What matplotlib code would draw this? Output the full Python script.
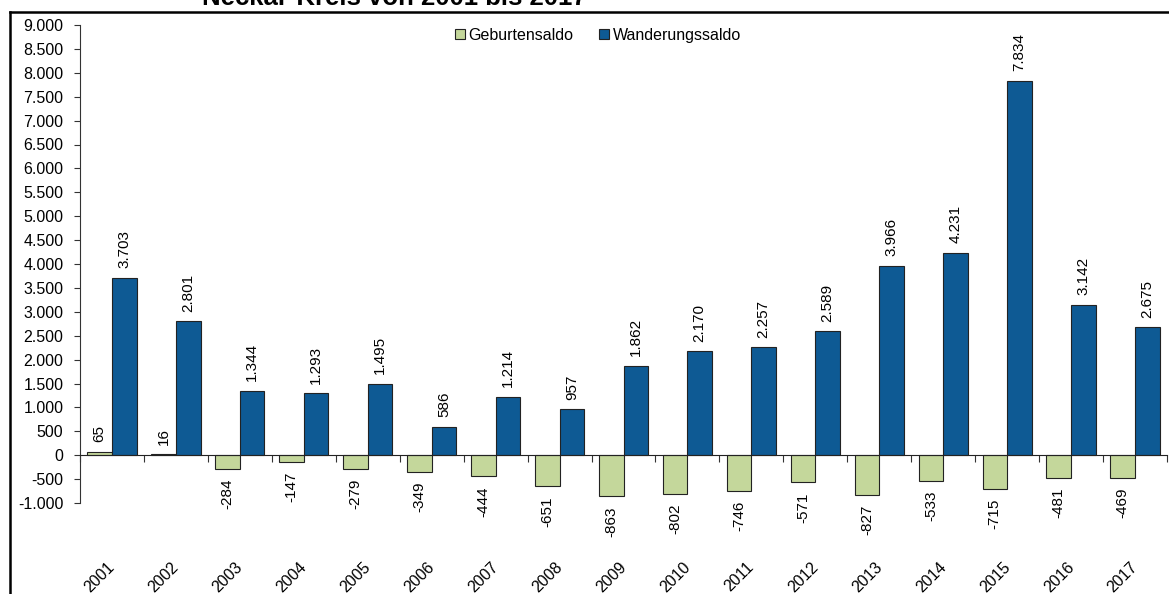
import numpy as np
import matplotlib.pyplot as plt
from matplotlib.lines import Line2D
from matplotlib.transforms import blended_transform_factory, offset_copy

plt.rcParams['font.family'] = ['Liberation Sans', 'DejaVu Sans']

# Daten
jahre = ["2001", "2002", "2003", "2004", "2005", "2006", "2007", "2008", "2009",
         "2010", "2011", "2012", "2013", "2014", "2015", "2016", "2017"]
geburtensaldo = [65, 16, -284, -147, -279, -349, -444, -651, -863,
                 -802, -746, -571, -827, -533, -715, -481, -469]
wanderungssaldo = [3703, 2801, 1344, 1293, 1495, 586, 1214, 957, 1862,
                   2170, 2257, 2589, 3966, 4231, 7834, 3142, 2675]

gruen = "#c4d79b"
blau = "#0e5a94"


def fmt(v):
    return f"{v:,}".replace(",", ".")


fig = plt.figure(figsize=(11.69, 5.94), dpi=100)
W, H = 1169, 594
ax = fig.add_axes([80 / W, (H - 503) / H, (1167 - 80) / W, (503 - 25) / H])

x = np.arange(len(jahre))
bw = 0.385
ax.bar(x - bw / 2, geburtensaldo, bw, color=gruen, edgecolor="#222222", linewidth=0.8,
       label="Geburtensaldo", zorder=2)
ax.bar(x + bw / 2, wanderungssaldo, bw, color=blau, edgecolor="#222222", linewidth=0.8,
       label="Wanderungssaldo", zorder=2)

# Werte an den Balken
for xi, v in zip(x - bw / 2, geburtensaldo):
    if v >= 0:
        ax.annotate(fmt(v), (xi, v), xytext=(0, 7), textcoords="offset points",
                    rotation=90, ha="center", va="bottom", fontsize=11)
    else:
        ax.annotate(fmt(v), (xi, v), xytext=(0, -7), textcoords="offset points",
                    rotation=90, ha="center", va="top", fontsize=11)
for xi, v in zip(x + bw / 2, wanderungssaldo):
    ax.annotate(fmt(v), (xi, v), xytext=(0, 7), textcoords="offset points",
                rotation=90, ha="center", va="bottom", fontsize=11)

ax.set_xlim(-0.5, len(jahre) - 0.5)
ax.set_ylim(-1000, 9000)
ax.set_yticks(np.arange(-1000, 9001, 500))
ax.set_yticklabels([fmt(v) for v in range(-1000, 9001, 500)], fontsize=11.5)

for s in ["top", "right"]:
    ax.spines[s].set_visible(False)
ax.spines["bottom"].set_position(("data", 0))
ax.spines["bottom"].set_color("#222222")
ax.spines["left"].set_color("#333333")
ax.tick_params(axis="y", direction="out", length=4, color="#333333", pad=8)
ax.set_xticks(np.arange(len(jahre) + 1) - 0.5)
ax.set_xticklabels([])
ax.tick_params(axis="x", direction="out", length=5, color="#333333")

# Jahreszahlen unten
tr = blended_transform_factory(ax.transData, ax.transAxes)
tr = offset_copy(tr, fig=fig, x=-12, y=-74, units="dots")
for xi, j in zip(x, jahre):
    ax.text(xi, 0, j, transform=tr, rotation=45, ha="center", va="center",
            fontsize=11.5)

ax.legend(loc="center", bbox_to_anchor=(0.4766, 0.979), ncol=2, frameon=False,
          fontsize=11.5, handlelength=0.6, handleheight=0.6, handletextpad=0.25,
          columnspacing=1.6)

# Rahmen und abgeschnittener Titel
fig.add_artist(Line2D([10 / W, 10 / W], [0, (H - 12) / H], color="black", linewidth=1.8))
fig.add_artist(Line2D([10 / W, 1], [(H - 12) / H, (H - 12) / H], color="black", linewidth=1.8))
fig.text(394 / W, (H - 5) / H, "Neckar-Kreis von 2001 bis 2017", ha="center",
         va="baseline", fontsize=18.5, fontweight="bold")

fig.savefig("out.png", dpi=100)
